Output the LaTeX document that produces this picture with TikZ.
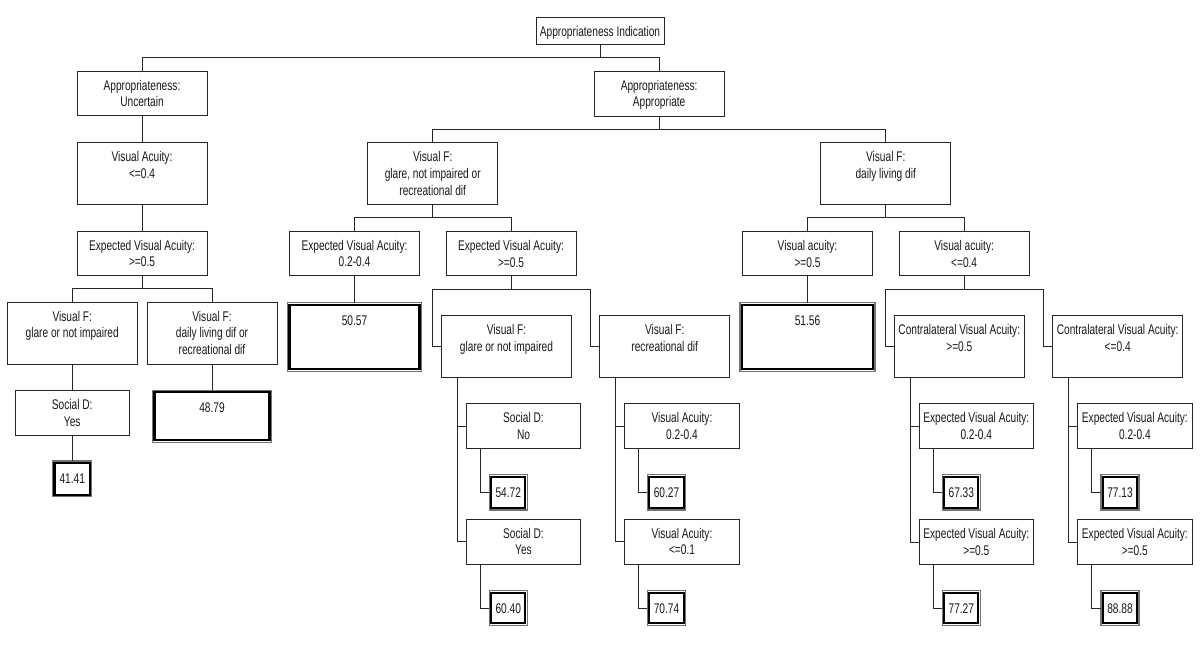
\documentclass[tikz,border=0pt]{standalone}
\usepackage{fontspec}
\setmainfont{Liberation Sans}[FakeStretch=0.725]
\usetikzlibrary{calc}
\tikzset{
  box/.style={draw=black!85, line width=0.75pt, fill=white, rectangle, inner sep=0pt, outer sep=0pt},
  txt/.style={anchor=north, inner sep=0pt, align=center, font=\fontsize{10.5pt}{12.5pt}\selectfont, text=black!90},
  leafbox/.style={draw=black!55, line width=0.85pt, fill=white, rectangle, inner sep=0pt, outer sep=0pt},
  leafin/.style={draw=black, line width=1.6pt},
  conn/.style={draw=black!85, line width=0.75pt},
}
% box: name, x1, y1, x2, y2, text
\newcommand\bx[6]{%
  \node[box, minimum width={0.75pt*(#4-#2)}, minimum height={0.75pt*(#5-#3)}] (#1) at ({(#2+#4)/2},{(#3+#5)/2}) {};
  \node[txt] (#1t) at ({(#2+#4)/2},{#3+8.6}) {#6};}
% leaf: name, x1, y1, x2, y2, text
\newcommand\lf[6]{%
  \node[leafbox, minimum width={0.75pt*(#4-#2)}, minimum height={0.75pt*(#5-#3)}] (#1) at ({(#2+#4)/2},{(#3+#5)/2}) {};
  \draw[leafin] ([shift={(1.5pt,-1.5pt)}]#1.north west) rectangle ([shift={(-1.5pt,1.5pt)}]#1.south east);
  \node[txt] (#1t) at ({(#2+#4)/2},{#3+12.3}) {#6};}
\begin{document}
\begin{tikzpicture}[x=0.75pt, y=-0.75pt]
\fill[white] (0,0) rectangle (1200,651);
\useasboundingbox (0,0) rectangle (1200,651);

% ---- boxes
\bx{R}{536}{17}{664}{44}{Appropriateness Indication}
\bx{U}{77}{71}{207}{115.7}{Appropriateness:\\Uncertain}
\bx{A}{594.3}{71}{724}{116}{Appropriateness:\\Appropriate}
\bx{VAa}{77}{142.7}{207}{204}{Visual Acuity:\\<=0.4}
\bx{EVAa}{77}{231}{207}{275.5}{Expected Visual Acuity:\\>=0.5}
\bx{VFa}{7.2}{302.3}{137.2}{364}{Visual F:\\glare or not impaired}
\bx{VFb}{147}{302.3}{277}{364}{Visual F:\\daily living dif or\\recreational dif}
\bx{SDa}{15}{390.7}{129.4}{435.3}{Social D:\\Yes}
\lf{La}{52.5}{461}{91.9}{496.7}{41.41}
\lf{Lb}{152.5}{390.3}{271.5}{442.3}{48.79}

\bx{VFc}{367.7}{142.7}{497.7}{204}{Visual F:\\glare, not impaired or\\recreational dif}
\bx{VFd}{820.7}{142.7}{950.7}{204}{Visual F:\\daily living dif}
\bx{EVAb}{289.5}{231}{419.5}{275.5}{Expected Visual Acuity:\\0.2-0.4}
\bx{EVAc}{446}{231.5}{576}{275.7}{Expected Visual Acuity:\\>=0.5}
\lf{Lc}{287.5}{302.7}{421.5}{371.3}{50.57}
\bx{VFe}{441.3}{315.7}{571.7}{377.3}{Visual F:\\glare or not impaired}
\bx{VFf}{599.7}{315.7}{729.7}{377.3}{Visual F:\\recreational dif}
\bx{SDb}{466.3}{403.7}{580.7}{448.7}{Social D:\\No}
\bx{SDc}{466.3}{519.3}{580.7}{564}{Social D:\\Yes}
\lf{Ld}{489.3}{474.7}{527.3}{510}{54.72}
\lf{Le}{489.3}{590.7}{527.3}{625.3}{60.40}
\bx{VAb}{624.7}{403.7}{739.3}{448.7}{Visual Acuity:\\0.2-0.4}
\bx{VAc}{624.7}{519.3}{739.3}{564}{Visual Acuity:\\<=0.1}
\lf{Lf}{647.3}{474.7}{685.7}{510}{60.27}
\lf{Lg}{647.3}{590.7}{685.7}{625.3}{70.74}

\bx{VAd}{742.7}{231.5}{872.3}{275.7}{Visual acuity:\\>=0.5}
\bx{VAe}{899.3}{231.5}{1029}{275.7}{Visual acuity:\\<=0.4}
\lf{Lh}{740}{302.7}{875}{371.3}{51.56}
\bx{CVAa}{894.3}{315.7}{1024.3}{377.3}{Contralateral Visual Acuity:\\>=0.5}
\bx{CVAb}{1052.7}{315.7}{1182.7}{377.3}{Contralateral Visual Acuity:\\<=0.4}
\bx{EVAd}{919.3}{403.7}{1033.3}{448.7}{Expected Visual Acuity:\\0.2-0.4}
\bx{EVAe}{919.3}{519.7}{1033.3}{564.3}{Expected Visual Acuity:\\>=0.5}
\lf{Li}{942.3}{474.7}{980.3}{510}{67.33}
\lf{Lj}{942.3}{590.7}{980.3}{625.3}{77.27}
\bx{EVAf}{1077.7}{403.7}{1192}{448.7}{Expected Visual Acuity:\\0.2-0.4}
\bx{EVAg}{1077.7}{519.7}{1192}{564.3}{Expected Visual Acuity:\\>=0.5}
\lf{Lk}{1101}{474.7}{1139}{510}{77.13}
\lf{Ll}{1101}{590.7}{1139}{625.3}{88.88}

% ---- connectors
\draw[conn] (R.south) -- ++(0,13.3) -| (U.north);
\draw[conn] (R.south) -- ++(0,13.3) -| (A.north);
\draw[conn] (U.south) -- (VAa.north);
\draw[conn] (VAa.south) -- (EVAa.north);
\draw[conn] (EVAa.south) -- ++(0,13.3) -| (VFa.north);
\draw[conn] (EVAa.south) -- ++(0,13.3) -| (VFb.north);
\draw[conn] (VFa.south) -- (SDa.north);
\draw[conn] (SDa.south) -- (La.north);
\draw[conn] (VFb.south) -- (Lb.north);

\draw[conn] (A.south) -- ++(0,13.3) -| (VFc.north);
\draw[conn] (A.south) -- ++(0,13.3) -| (VFd.north);
\draw[conn] (VFc.south) -- ++(0,13.3) -| (EVAb.north);
\draw[conn] (VFc.south) -- ++(0,13.3) -| (EVAc.north);
\draw[conn] (EVAb.south) -- (Lc.north);
\draw[conn] (EVAc.south) -- ++(0,13.3) -| ($(VFe.west)+(-9,0)$) -- (VFe.west);
\draw[conn] (EVAc.south) -- ++(0,13.3) -| ($(VFf.west)+(-9,0)$) -- (VFf.west);
\draw[conn] ($(VFe.south west)+(15.7,0)$) |- (SDb.west);
\draw[conn] ($(VFe.south west)+(15.7,0)$) |- (SDc.west);
\draw[conn] ($(SDb.south west)+(13.7,0)$) |- (Ld.west);
\draw[conn] ($(SDc.south west)+(13.7,0)$) |- (Le.west);
\draw[conn] ($(VFf.south west)+(16,0)$) |- (VAb.west);
\draw[conn] ($(VFf.south west)+(16,0)$) |- (VAc.west);
\draw[conn] ($(VAb.south west)+(13.6,0)$) |- (Lf.west);
\draw[conn] ($(VAc.south west)+(13.6,0)$) |- (Lg.west);

\draw[conn] (VFd.south) -- ++(0,13.3) -| (VAd.north);
\draw[conn] (VFd.south) -- ++(0,13.3) -| (VAe.north);
\draw[conn] (VAd.south) -- (Lh.north);
\draw[conn] (VAe.south) -- ++(0,13.3) -| ($(CVAa.west)+(-9,0)$) -- (CVAa.west);
\draw[conn] (VAe.south) -- ++(0,13.3) -| ($(CVAb.west)+(-9,0)$) -- (CVAb.west);
\draw[conn] ($(CVAa.south west)+(15.7,0)$) |- (EVAd.west);
\draw[conn] ($(CVAa.south west)+(15.7,0)$) |- (EVAe.west);
\draw[conn] ($(EVAd.south west)+(14,0)$) |- (Li.west);
\draw[conn] ($(EVAe.south west)+(14,0)$) |- (Lj.west);
\draw[conn] ($(CVAb.south west)+(15.6,0)$) |- (EVAf.west);
\draw[conn] ($(CVAb.south west)+(15.6,0)$) |- (EVAg.west);
\draw[conn] ($(EVAf.south west)+(14,0)$) |- (Lk.west);
\draw[conn] ($(EVAg.south west)+(14,0)$) |- (Ll.west);
\end{tikzpicture}
\end{document}
